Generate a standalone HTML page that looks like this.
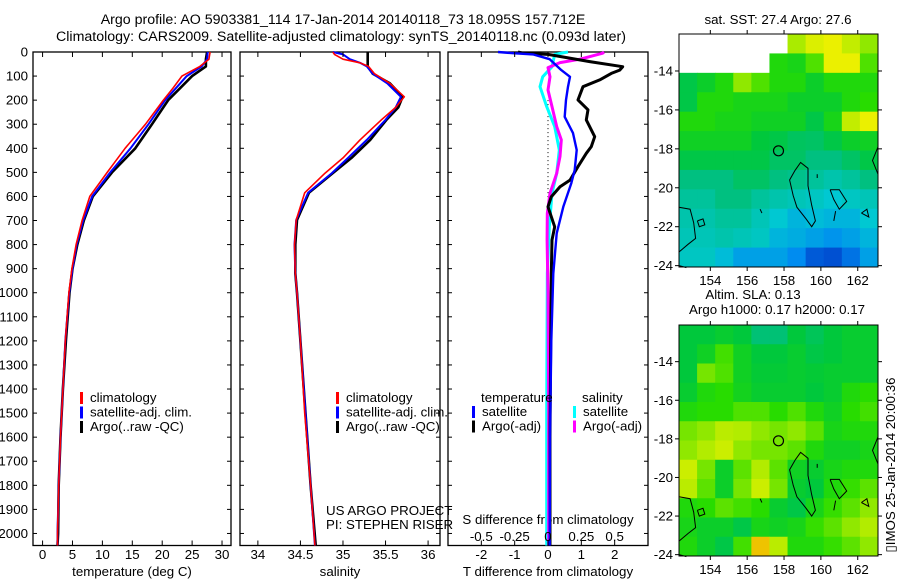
<!DOCTYPE html>
<html><head><meta charset="utf-8"><style>
html,body{margin:0;padding:0;background:#fff;}
svg{display:block;font-family:"Liberation Sans",sans-serif;}
text{font-size:13.3px;fill:#000;}
</style></head><body>
<svg id="fig" width="900" height="580" viewBox="0 0 900 580" xmlns="http://www.w3.org/2000/svg">
<text x="343" y="24" text-anchor="middle" style="font-size:14.2px">Argo profile: AO 5903381_114 17-Jan-2014 20140118_73 18.095S 157.712E</text>
<text x="341" y="41" text-anchor="middle" style="font-size:14.2px">Climatology: CARS2009. Satellite-adjusted climatology: synTS_20140118.nc (0.093d later)</text>
<text x="778" y="24" text-anchor="middle">sat. SST: 27.4 Argo: 27.6</text>
<text x="753" y="299" text-anchor="middle">Altim. SLA: 0.13</text>
<text x="777" y="314" text-anchor="middle">Argo h1000: 0.17 h2000: 0.17</text>
<text transform="translate(895,465) rotate(-90)" text-anchor="middle">▯IMOS 25-Jan-2014 20:00:36</text>
<text x="326" y="515">US ARGO PROJECT</text>
<text x="326" y="529">PI: STEPHEN RISER</text>
<text x="548" y="524" text-anchor="middle">S difference from climatology</text>
<g id="g"></g>
</svg>
<script>
// ---- profile data ----
const tDepth=[0,30,60,100,150,200,300,400,500,600,700,800,900,1000,1200,1400,1600,1800,2000,2050];
const tClim=[28.0,27.8,26.3,23.3,21.8,20.2,17.2,13.8,10.8,7.9,6.6,5.6,4.9,4.4,3.8,3.4,3.0,2.7,2.5,2.5];
const tSat=[27.6,27.5,26.6,24.1,22.3,20.5,17.7,14.7,11.3,8.3,6.8,5.7,5.0,4.45,3.8,3.4,3.0,2.7,2.5,2.5];
const tArgo=[27.5,27.3,27.3,25.0,23.0,21.0,18.3,15.5,11.6,8.4,6.9,5.8,5.0,4.5,3.9,3.4,3.0,2.7,2.6,2.5];
const sDepth=[0,10,30,45,60,90,130,186,230,282,365,440,503,585,698,800,918,1000,1200,1500,1800,2050];
const sClim=[34.88,34.9,35.0,35.2,35.3,35.37,35.55,35.72,35.62,35.45,35.2,35.0,34.79,34.55,34.45,34.43,34.44,34.46,34.5,34.55,34.62,34.67];
const sSat=[34.88,35.0,35.08,35.2,35.28,35.35,35.52,35.68,35.62,35.5,35.28,35.06,34.87,34.59,34.45,34.43,34.44,34.46,34.5,34.56,34.62,34.67];
const sArgo=[35.29,35.29,35.29,35.29,35.29,35.35,35.55,35.7,35.65,35.51,35.32,35.1,34.88,34.6,34.46,34.44,34.44,34.46,34.5,34.56,34.62,34.68];
const dTArgoDepth=[0,5,10,40,61,75,89,116,144,199,240,282,352,393,421,476,532,560,601,643,726,781,920,1200,1600,2050];
const dTArgo=[-0.9,-0.75,0,1.25,2.24,2.15,1.9,1.55,1.05,0.9,1.2,1.15,1.4,1.3,1.15,0.9,0.66,0.36,0.1,0,0.2,0.12,0.1,0.08,0.06,0.06];
const dTSatDepth=[0,5,10,30,75,103,144,199,269,337,407,490,545,643,753,920,1200,1600,2050];
const dTSat=[-1.5,-1.05,-0.45,0.05,0.4,0.66,0.6,0.54,0.5,0.75,0.86,0.8,0.7,0.46,0.26,0.16,0.1,0.06,0.05];
const dSArgoDepth=[0,5,30,44,65,103,158,227,310,365,434,504,587,670,781,1000,1500,2050];
const dSArgo=[0.42,0.41,0.24,0.09,0,0.015,0,0.03,0.065,0.1,0.09,0.065,0.015,-0.005,-0.007,0,0.005,0.005];
const dSSatDepth=[0,10,61,103,144,227,310,407,504,587,726,920,1500,2050];
const dSSat=[0.15,0.05,0.03,-0.04,-0.06,-0.01,0.05,0.085,0.065,0.03,0.01,-0.005,-0.01,-0.01];
const depthTicks=[0,100,200,300,400,500,600,700,800,900,1000,1100,1200,1300,1400,1500,1600,1700,1800,1900,2000];
const tTicks=[0,5,10,15,20,25,30];
const sTicks=[34,34.5,35,35.5,36];
const tdTicks=[-2,-1,0,1,2];
const sdTicks=[-0.5,-0.25,0,0.25,0.5];
const sdTickLabels=["-0.5","-0.25","0","0.25","0.5"];
// ---- map data (1-degree cells, rows from north) ----
const sstGrid=[
[null,null,null,null,null,null,0.82,0.88,0.9,0.85,0.8],
[null,null,null,null,null,0.7,0.68,0.75,0.9,0.9,0.75],
[0.6,0.65,0.7,0.8,0.75,0.7,0.7,0.65,0.7,0.7,0.7],
[0.6,0.7,0.7,0.68,0.68,0.68,0.65,0.65,0.65,0.7,0.72],
[0.7,0.7,0.68,0.68,0.66,0.66,0.66,0.6,0.68,0.85,0.9],
[0.66,0.66,0.66,0.66,0.62,0.6,0.56,0.55,0.6,0.65,0.66],
[0.6,0.6,0.6,0.6,0.6,0.55,0.55,0.5,0.5,0.55,0.6],
[0.5,0.5,0.5,0.55,0.55,0.5,0.48,0.45,0.42,0.45,0.5],
[0.45,0.45,0.5,0.5,0.45,0.42,0.4,0.38,0.35,0.38,0.4],
[0.42,0.42,0.45,0.45,0.4,0.35,0.3,0.32,0.3,0.3,0.35],
[0.4,0.4,0.42,0.4,0.38,0.3,0.28,0.25,0.22,0.25,0.3],
[0.38,0.38,0.32,0.25,0.25,0.25,0.2,0.1,0.08,0.15,0.25]];
const slaGrid=[
[0.62,0.62,0.64,0.62,0.52,0.52,0.62,0.57,0.62,0.64,0.64],
[0.62,0.66,0.74,0.66,0.62,0.62,0.64,0.6,0.62,0.64,0.64],
[0.62,0.78,0.75,0.66,0.63,0.63,0.64,0.63,0.64,0.64,0.64],
[0.64,0.7,0.72,0.67,0.64,0.64,0.64,0.62,0.64,0.7,0.72],
[0.7,0.72,0.72,0.75,0.75,0.72,0.75,0.7,0.66,0.72,0.74],
[0.78,0.8,0.84,0.83,0.8,0.78,0.8,0.76,0.68,0.7,0.7],
[0.8,0.83,0.86,0.8,0.78,0.78,0.76,0.7,0.66,0.66,0.68],
[0.86,0.78,0.65,0.76,0.83,0.76,0.66,0.64,0.68,0.7,0.7],
[0.84,0.76,0.65,0.78,0.86,0.78,0.64,0.62,0.7,0.73,0.76],
[0.7,0.72,0.76,0.74,0.72,0.64,0.6,0.68,0.73,0.76,0.8],
[0.68,0.65,0.65,0.6,0.68,0.66,0.68,0.73,0.76,0.8,0.83],
[0.7,0.65,0.6,0.74,0.95,0.84,0.7,0.7,0.73,0.76,0.8]];
const lonTicks=[154,156,158,160,162];
const latTicks=[-14,-16,-18,-20,-22,-24];
const argoLon=157.7, argoLat=-18.1;

const NS="http://www.w3.org/2000/svg";
const G=document.getElementById('g');
function mk(tag,attrs,parent){const e=document.createElementNS(NS,tag);for(const k in attrs)e.setAttribute(k,attrs[k]);(parent||G).appendChild(e);return e;}
function txt(x,y,s,anchor,parent){const e=mk('text',{x:x,y:y,'text-anchor':anchor||'start'},parent);e.textContent=s;return e;}

const TOP=52, BOT=545.5, DMAX=2050;
const yD=d=>TOP+(BOT-TOP)*d/DMAX;
function panel(name,x0,x1,vmin,vmax){
  const sx=v=>x0+(x1-x0)*(v-vmin)/(vmax-vmin);
  const g=mk('g',{});
  
  
  const r=mk('rect',{x:x0,y:TOP,width:x1-x0,height:BOT-TOP,fill:'none',stroke:'#000','stroke-width':1.3},g);
  
  
  depthTicks.forEach(d=>{mk('line',{x1:x0,x2:x0+4,y1:yD(d),y2:yD(d),stroke:'#000'},g);mk('line',{x1:x1-4,x2:x1,y1:yD(d),y2:yD(d),stroke:'#000'},g);});
  return {g,sx};
}
function line(p,name,xs,ds,sx,col,w){
  const pts=xs.map((v,i)=>sx(v).toFixed(1)+','+yD(ds[i]).toFixed(1)).join(' ');
  const e=mk('polyline',{points:pts,fill:'none',stroke:col,'stroke-width':w,'stroke-linejoin':'round'},p.g);
  
  
}
function xticks(p,ticks,labels,y){
  ticks.forEach((t,i)=>{const x=p.sx(t);mk('line',{x1:x,x2:x,y1:TOP,y2:TOP+5,stroke:'#000'},p.g);mk('line',{x1:x,x2:x,y1:BOT-5,y2:BOT,stroke:'#000'},p.g);
    const e=txt(x,y,labels?labels[i]:String(t),'middle',p.g);
    
    });
}
function legend(p,x,y,items){
  items.forEach((it,i)=>{const yy=y+i*14.5;mk('rect',{x:x,y:yy-10,width:3,height:12,fill:it[1]},p.g);
    const e=txt(x+10,yy,it[0],'start',p.g);
    
    });
}
depthTicks.forEach(d=>{const e=txt(28,yD(d)+4.5,String(d),'end');
  
  });

const p1=panel('temperature-panel',33,231,-1.6,31.5);
line(p1,'temp-argo',tArgo,tDepth,p1.sx,'#000',2.6);
line(p1,'temp-sat-clim',tSat,tDepth,p1.sx,'#0000ff',2);
line(p1,'temp-climatology',tClim,tDepth,p1.sx,'#ff0000',1.6);
xticks(p1,tTicks,null,559);
let e=txt(132,576,'temperature (deg C)','middle');
legend(p1,80,402,[['climatology','#ff0000'],['satellite-adj. clim.','#0000ff'],['Argo(..raw -QC)','#000']]);

const p2=panel('salinity-panel',240,440,33.79,36.14);
line(p2,'sal-argo',sArgo,sDepth,p2.sx,'#000',2.6);
line(p2,'sal-sat-clim',sSat,sDepth,p2.sx,'#0000ff',2);
line(p2,'sal-climatology',sClim,sDepth,p2.sx,'#ff0000',1.6);
xticks(p2,sTicks,null,559);
e=txt(340,576,'salinity','middle');
legend(p2,336,402,[['climatology','#ff0000'],['satellite-adj. clim.','#0000ff'],['Argo(..raw -QC)','#000']]);

const p3=panel('difference-panel',448,648,-3,3);
const ssx=v=>p3.sx(v*4);
mk('line',{x1:p3.sx(0),x2:p3.sx(0),y1:yD(200),y2:yD(620),stroke:'#000','stroke-dasharray':'1,3'},p3.g);
line(p3,'sdiff-satellite',dSSat,dSSatDepth,ssx,'#00ffff',3);
line(p3,'sdiff-argo',dSArgo,dSArgoDepth,ssx,'#ff00ff',3);
line(p3,'tdiff-argo',dTArgo,dTArgoDepth,p3.sx,'#000',3);
line(p3,'tdiff-satellite',dTSat,dTSatDepth,p3.sx,'#0000ff',2.4);
xticks(p3,tdTicks,null,559);
sdTicks.forEach((t,i)=>{const x=ssx(t);const el=txt(x,541,sdTickLabels[i],'middle',p3.g);
  
  });
e=txt(548,576,'T difference from climatology','middle');
txt(481,402,'temperature','start',p3.g);
txt(582,402,'salinity','start',p3.g);
legend(p3,472,416,[['satellite','#0000ff'],['Argo(-adj)','#000']]);
legend(p3,573,416,[['satellite','#00ffff'],['Argo(-adj)','#ff00ff']]);

const LON0=152.3,LON1=163.1,LAT0=-12.1,LAT1=-24.07;
const stops=[[0,[0,40,190]],[0.2,[0,140,240]],[0.35,[0,200,210]],[0.5,[0,192,128]],[0.62,[0,200,60]],[0.72,[40,220,0]],[0.82,[170,235,0]],[0.9,[235,240,0]],[1,[240,150,0]]];
function cmap(v){for(let i=1;i<stops.length;i++){if(v<=stops[i][0]){const a=stops[i-1],b=stops[i],t=(v-a[0])/(b[0]-a[0]);return 'rgb('+a[1].map((c,k)=>Math.round(c+(b[1][k]-c)*t)).join(',')+')';}}return 'rgb(240,150,0)';}
const coasts=[
[[152.3,-21],[152.9,-21.1],[153.1,-21.8],[153.2,-22.6],[152.8,-22.9],[152.3,-23.3]],
[[152.3,-24],[152.7,-24.1]],
[[153.3,-21.7],[153.6,-21.6],[153.7,-21.9],[153.4,-22.0],[153.3,-21.7]],
[[158.6,-19.1],[158.9,-18.7],[159.3,-19.0],[159.3,-19.9],[159.5,-20.9],[159.7,-21.7],[159.5,-22.0],[159.2,-21.6],[158.7,-21.0],[158.5,-20.4],[158.3,-19.6],[158.6,-19.1]],
[[160.5,-20.1],[161.0,-20.1],[161.4,-20.7],[161.0,-21.1],[160.7,-20.6],[160.5,-20.1]],
[[162.2,-21.3],[162.5,-21.1],[162.6,-21.5],[162.2,-21.3]],
[[163.1,-17.9],[162.8,-18.6],[163.1,-19.3]],
[[160.8,-21.2],[160.7,-21.7]],[[159.8,-19.3],[159.8,-19.5]],[[156.7,-21.1],[156.8,-21.3]]];
function mapPanel(name,grid,top,bot){
  const l=679,r=878;
  const sx=lon=>l+(r-l)*(lon-LON0)/(LON1-LON0);
  const sy=lat=>top+(bot-top)*(lat-LAT0)/(LAT1-LAT0);
  const g=mk('g',{});
  
  
  const cw=(r-l)/grid[0].length, ch=(bot-top)/grid.length;
  grid.forEach((row,i)=>row.forEach((v,j)=>{if(v===null)return;
    const c=mk('rect',{x:l+j*cw,y:top+i*ch,width:cw+0.5,height:ch+0.5,fill:cmap(v)},g);
    
    }));
  coasts.forEach(c=>{const pl=mk('polyline',{points:c.map(p=>sx(p[0]).toFixed(1)+','+sy(p[1]).toFixed(1)).join(' '),fill:'none',stroke:'#000','stroke-width':1},g);
    
    });
  const ci=mk('circle',{cx:sx(argoLon),cy:sy(argoLat),r:5,fill:'none',stroke:'#000','stroke-width':1.2},g);
  
  
  mk('rect',{x:l,y:top,width:r-l,height:bot-top,fill:'none',stroke:'#000','stroke-width':1},g);
  lonTicks.forEach(t=>{const x=sx(t);mk('line',{x1:x,x2:x,y1:top-4,y2:top,stroke:'#000'},g);mk('line',{x1:x,x2:x,y1:bot,y2:bot+4,stroke:'#000'},g);
    const tl=txt(x,bot+18,String(t),'middle',g);
    
    });
  latTicks.forEach(t=>{const y=sy(t);mk('line',{x1:l-4,x2:l,y1:y,y2:y,stroke:'#000'},g);mk('line',{x1:r,x2:r+4,y1:y,y2:y,stroke:'#000'},g);
    const tl=txt(l-6,y+4.5,String(t),'end',g);
    
    });
}
mapPanel('sst-map',sstGrid,34,267);
mapPanel('sla-map',slaGrid,325,556);
</script>
</body></html>
